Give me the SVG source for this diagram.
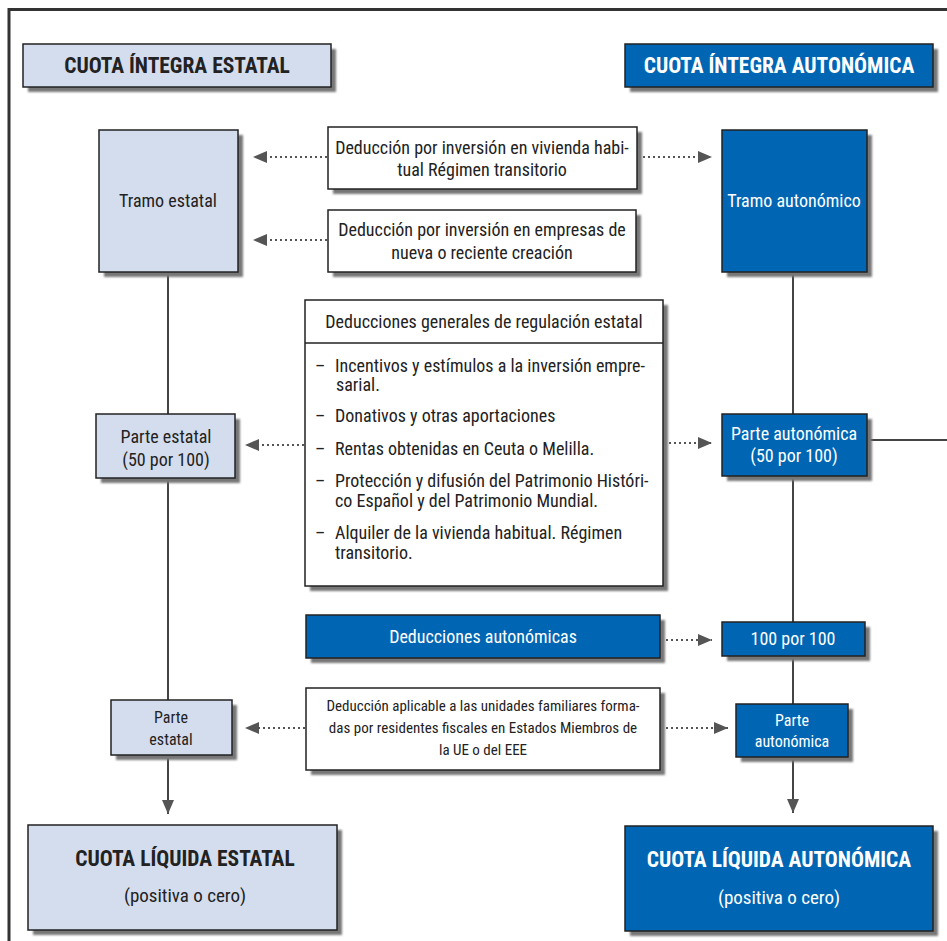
<svg xmlns="http://www.w3.org/2000/svg" width="947" height="941" viewBox="0 0 947 941">
<defs>
<style>
.lt{fill:#d4ddee;stroke:#222;stroke-width:1.5}
.bl{fill:#0066b3;stroke:#222;stroke-width:1.5}
.wh{fill:#fff;stroke:#222;stroke-width:1.5}
.sh{fill:#777;filter:url(#blur)}
text{font-family:"Liberation Sans Narrow","Roboto Condensed","Liberation Sans",sans-serif;font-size:18px;fill:#222}
.c{text-anchor:middle}
.w{fill:#fff}
.b{font-weight:bold;font-size:21.5px}
.s{font-size:15px}
.m{font-size:16px}
.p{font-size:19px}
.dot{stroke:#555;stroke-width:2;stroke-dasharray:2 3;fill:none}
.ln{stroke:#444;stroke-width:2;fill:none}
</style>
<filter id="blur" x="-10%" y="-10%" width="120%" height="130%"><feGaussianBlur stdDeviation="1.2"/></filter>
<marker id="ah" viewBox="0 0 14 12" refX="14" refY="6" markerWidth="14" markerHeight="12" markerUnits="userSpaceOnUse" orient="auto"><path d="M0,0L14,6L0,12z" fill="#555"/></marker>
</defs>
<rect width="947" height="941" fill="#fff"/>
<path d="M9,941V9.5H947" fill="none" stroke="#333" stroke-width="3"/>

<g id="connectors">
<line class="ln" x1="168" y1="272" x2="168" y2="414"/>
<line class="ln" x1="168" y1="478" x2="168" y2="700"/>
<line class="ln" x1="168" y1="755" x2="168" y2="814" marker-end="url(#ah)"/>
<line class="ln" x1="793" y1="272" x2="793" y2="414"/>
<line class="ln" x1="793" y1="476" x2="793" y2="622"/>
<line class="ln" x1="793" y1="656" x2="793" y2="704"/>
<line class="ln" x1="793" y1="757" x2="793" y2="813" marker-end="url(#ah)"/>
<line class="ln" x1="867" y1="440" x2="947" y2="440"/>
<line class="dot" x1="327" y1="157" x2="253" y2="157" marker-end="url(#ah)"/>
<line class="dot" x1="638" y1="157" x2="712" y2="157" marker-end="url(#ah)"/>
<line class="dot" x1="327" y1="240" x2="253" y2="240" marker-end="url(#ah)"/>
<line class="dot" x1="304" y1="445" x2="245" y2="445" marker-end="url(#ah)"/>
<line class="dot" x1="664" y1="443" x2="712" y2="443" marker-end="url(#ah)"/>
<line class="dot" x1="661" y1="640" x2="712" y2="640" marker-end="url(#ah)"/>
<line class="dot" x1="305" y1="728" x2="245" y2="728" marker-end="url(#ah)"/>
<line class="dot" x1="661" y1="728" x2="728" y2="728" marker-end="url(#ah)"/>
</g>

<g id="hdr-estatal">
<rect class="sh" x="28" y="49" width="308" height="43"/>
<rect class="lt" x="23" y="44" width="308" height="43"/>
<text class="c b" x="177" y="73">CUOTA ÍNTEGRA ESTATAL</text>
</g>
<g id="hdr-autonomica">
<rect class="sh" x="630" y="49" width="308" height="43"/>
<rect class="bl" x="625" y="44" width="308" height="43"/>
<text class="c b w" x="779" y="73">CUOTA ÍNTEGRA AUTONÓMICA</text>
</g>

<g id="tramo-estatal">
<rect class="sh" x="104" y="135" width="139" height="142"/>
<rect class="lt" x="99" y="130" width="139" height="142"/>
<text class="c" x="168" y="207">Tramo estatal</text>
</g>
<g id="tramo-autonomico">
<rect class="sh" x="727" y="135" width="145" height="142"/>
<rect class="bl" x="722" y="130" width="145" height="142"/>
<text class="c w" x="794" y="207">Tramo autonómico</text>
</g>

<g id="ded-vivienda">
<rect class="sh" x="333" y="132" width="309" height="62"/>
<rect class="wh" x="328" y="127" width="309" height="62"/>
<text class="c" x="482" y="154">Deducción por inversión en vivienda habi-</text>
<text class="c" x="482" y="176">tual Régimen transitorio</text>
</g>
<g id="ded-empresas">
<rect class="sh" x="333" y="215" width="308" height="62"/>
<rect class="wh" x="328" y="210" width="308" height="62"/>
<text class="c" x="482" y="236">Deducción por inversión en empresas de</text>
<text class="c" x="482" y="259">nueva o reciente creación</text>
</g>

<g id="ded-generales">
<rect class="sh" x="310" y="305" width="358" height="286"/>
<rect class="wh" x="305" y="300" width="358" height="286"/>
<line x1="305" y1="343" x2="663" y2="343" stroke="#222" stroke-width="1.5"/>
<text class="c" x="484" y="328">Deducciones generales de regulación estatal</text>
<text x="315" y="372">–</text><text x="335" y="372">Incentivos y estímulos a la inversión empre-</text>
<text x="336" y="391">sarial.</text>
<text x="315" y="422">–</text><text x="335" y="422">Donativos y otras aportaciones</text>
<text x="315" y="455">–</text><text x="335" y="455">Rentas obtenidas en Ceuta o Melilla.</text>
<text x="315" y="487">–</text><text x="335" y="487">Protección y difusión del Patrimonio Históri-</text>
<text x="335" y="507">co Español y del Patrimonio Mundial.</text>
<text x="315" y="539">–</text><text x="335" y="539">Alquiler de la vivienda habitual. Régimen</text>
<text x="335" y="559">transitorio.</text>
</g>

<g id="parte-estatal-50">
<rect class="sh" x="101" y="419" width="139" height="64"/>
<rect class="lt" x="96" y="414" width="139" height="64"/>
<text class="c" x="166" y="443">Parte estatal</text>
<text class="c" x="166" y="466">(50 por 100)</text>
</g>
<g id="parte-autonomica-50">
<rect class="sh" x="727" y="419" width="145" height="62"/>
<rect class="bl" x="722" y="414" width="145" height="62"/>
<text class="c w" x="794" y="440">Parte autonómica</text>
<text class="c w" x="794" y="462">(50 por 100)</text>
</g>

<g id="ded-autonomicas">
<rect class="sh" x="311" y="620" width="354" height="43"/>
<rect class="bl" x="306" y="615" width="354" height="43"/>
<text class="c w" x="483" y="643">Deducciones autonómicas</text>
</g>
<g id="cien-por-cien">
<rect class="sh" x="727" y="627" width="143" height="34"/>
<rect class="bl" x="722" y="622" width="143" height="34"/>
<text class="c w" x="793" y="645">100 por 100</text>
</g>

<g id="ded-aplicable">
<rect class="sh" x="311" y="693" width="354" height="82"/>
<rect class="wh" x="306" y="688" width="354" height="82"/>
<text class="c s" x="483" y="711">Deducción aplicable a las unidades familiares forma-</text>
<text class="c s" x="483" y="733">das por residentes fiscales en Estados Miembros de</text>
<text class="c s" x="483" y="755">la UE o del EEE</text>
</g>
<g id="parte-estatal">
<rect class="sh" x="116" y="705" width="121" height="55"/>
<rect class="lt" x="111" y="700" width="121" height="55"/>
<text class="c m" x="171" y="723">Parte</text>
<text class="c m" x="171" y="745">estatal</text>
</g>
<g id="parte-autonomica">
<rect class="sh" x="741" y="709" width="112" height="53"/>
<rect class="bl" x="736" y="704" width="112" height="53"/>
<text class="c m w" x="792" y="726">Parte</text>
<text class="c m w" x="792" y="747">autonómica</text>
</g>

<g id="liquida-estatal">
<rect class="sh" x="33" y="830" width="309" height="105"/>
<rect class="lt" x="28" y="825" width="309" height="105"/>
<text class="c b" x="185" y="866">CUOTA LÍQUIDA ESTATAL</text>
<text class="c p" x="185" y="902">(positiva o cero)</text>
</g>
<g id="liquida-autonomica">
<rect class="sh" x="630" y="831" width="308" height="105"/>
<rect class="bl" x="625" y="826" width="308" height="105"/>
<text class="c b w" x="779" y="867">CUOTA LÍQUIDA AUTONÓMICA</text>
<text class="c p w" x="779" y="904">(positiva o cero)</text>
</g>
</svg>
